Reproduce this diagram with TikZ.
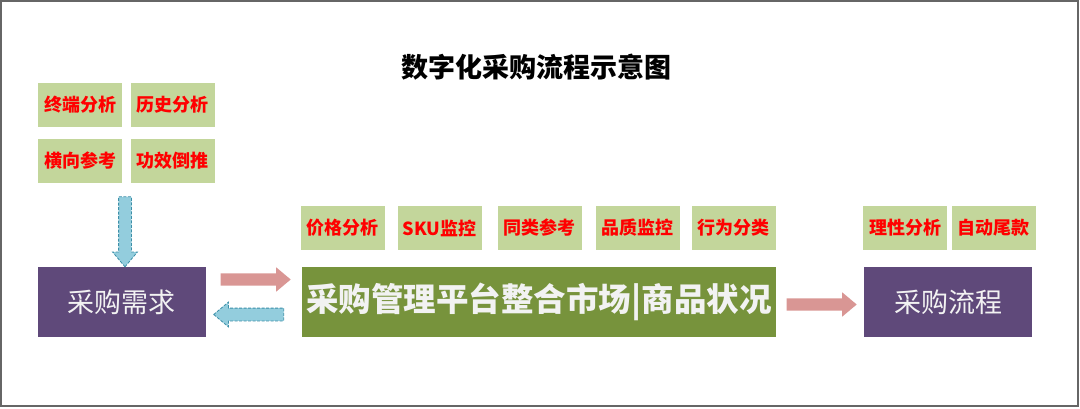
\documentclass[tikz,border=0pt]{standalone}
\usepackage{fontspec}
\setmainfont{Noto Sans CJK SC}
\usetikzlibrary{shapes.arrows}
\definecolor{tagfill}{HTML}{C3D69B}
\definecolor{purplebox}{HTML}{5F497A}
\definecolor{greenbox}{HTML}{77933C}
\definecolor{pinkarrow}{HTML}{D99694}
\definecolor{bluearrow}{HTML}{93CDDD}
\definecolor{blueedge}{HTML}{3C8FA8}
\definecolor{boxtext}{HTML}{F2F2F2}

\begin{document}
\begin{tikzpicture}[x=1pt, y=-1pt,
    tag/.style={fill=tagfill, text=red, font=\fontsize{18}{18}\selectfont\bfseries, minimum width=84pt, minimum height=44pt, inner sep=0pt},
    stagebox/.style={fill=purplebox, text=boxtext, font=\fontsize{27}{27}\selectfont, minimum width=168pt, minimum height=70pt, inner sep=0pt},
    blockarrow/.style={single arrow, minimum height=70pt, inner xsep=0pt, inner ysep=6pt, single arrow head extend=6pt, single arrow head indent=0pt, single arrow tip angle=80},
    pinkblock/.style={blockarrow, fill=pinkarrow},
    blueblock/.style={blockarrow, fill=bluearrow, draw=blueedge, dash pattern=on 3pt off 1.5pt, line width=0.8pt}]
    \useasboundingbox (0, 0) rectangle (1080, 409);
    \draw [line width=2pt, gray!80!black] (1, 1) rectangle (1078, 406);
    \node [font=\fontsize{27}{27}\selectfont\bfseries] (title) at (536, 67) {数字化采购流程示意图};
    % demand side
    \node [tag] (terminal) at (80, 105) {终端分析};
    \node [tag] (history) at (172.5, 105) {历史分析};
    \node [tag] (lateral) at (80, 161) {横向参考};
    \node [tag] (efficacy) at (172.5, 161) {功效倒推};
    \node [stagebox] (need) at (121.5, 302) {采购需求};
    \node [blueblock, rotate=-90] (down) at (125, 228) {};
    % platform
    \node [tag] (price) at (342.5, 228) {价格分析};
    \node [tag] (sku) at (439.5, 228) {SKU监控};
    \node [tag] (similar) at (539.5, 228) {同类参考};
    \node [tag] (quality) at (637.5, 228) {品质监控};
    \node [tag] (behaviour) at (733.5, 228) {行为分类};
    \node [stagebox, fill=greenbox, minimum width=474pt, font=\fontsize{32.5}{33}\selectfont\bfseries] (platform) at (539, 302) {采购管理平台整合市场|商品状况};
    \node [pinkblock] (toplat) at (252, 279.5) {};
    \node [blueblock, rotate=180] (back) at (252.5, 314.5) {};
    % procurement flow
    \node [tag] (rational) at (905, 228) {理性分析};
    \node [tag] (balance) at (993.5, 228) {自动尾款};
    \node [stagebox] (flow) at (948, 302) {采购流程};
    \node [pinkblock] (toflow) at (818, 304.5) {};
\end{tikzpicture}
\end{document}
